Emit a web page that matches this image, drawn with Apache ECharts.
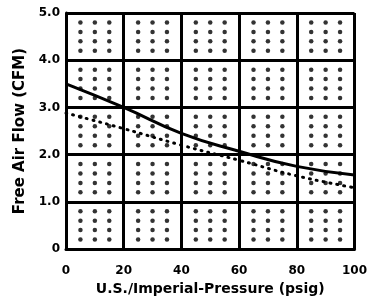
<!DOCTYPE html>
<html>
<head>
<meta charset="utf-8">
<script src="https://cdn.jsdelivr.net/npm/echarts@6/dist/echarts.min.js"></script>
<style>
html,body{margin:0;padding:0;background:#fff;}
#main{width:370px;height:301px;}
</style>
</head>
<body>
<div id="main"></div>
<script>
// 压力 (psig)
var pressure=[0,20,40,60,80,100];
// 实线
var flowSolid=[3.5,3.0,2.45,2.07,1.75,1.57];
// 点线
var flowDotted=[2.88,2.55,2.2,1.88,1.55,1.3];
// 刻度标签
var yLabels={0:'0',1:'1.0',2:'2.0',3:'3.0',4:'4.0',5:'5.0'};
// 格子内的装饰点 (相对于每格的偏移)
var dotOffX=[5,10,15];
var dotOffY=[0.2,0.4,0.6,0.8];

var dots=[];
for(var cx=0;cx<100;cx+=20){
    for(var cy=0;cy<5;cy++){
        dotOffX.forEach(function(dx){
            dotOffY.forEach(function(dy){
                dots.push([cx+dx,cy+dy]);
            });
        });
    }
}

var font='DejaVu Sans';
var myChart=echarts.init(document.getElementById('main'));
var option={
    animation:false,
    grid:{left:66,right:14,top:13,bottom:52},
    xAxis:{
        type:'value',min:0,max:100,interval:20,
        name:'U.S./Imperial-Pressure (psig)',
        nameLocation:'middle',nameGap:32,
        nameTextStyle:{color:'#000',fontFamily:font,fontWeight:'bold',fontSize:14},
        axisLine:{lineStyle:{color:'#000',width:3}},
        axisTick:{show:false},
        axisLabel:{color:'#000',fontFamily:font,fontWeight:'bold',fontSize:12,margin:16},
        splitLine:{lineStyle:{color:'#000',width:3}}
    },
    yAxis:{
        type:'value',min:0,max:5,interval:1,
        name:'Free Air Flow (CFM)',
        nameLocation:'middle',nameGap:33,
        nameTextStyle:{color:'#000',fontFamily:font,fontWeight:'bold',fontSize:15},
        axisLine:{show:true,lineStyle:{color:'#000',width:3}},
        axisTick:{show:false},
        axisLabel:{color:'#000',fontFamily:font,fontWeight:'bold',fontSize:12,margin:6,
            formatter:function(v){return yLabels[v];}},
        splitLine:{lineStyle:{color:'#000',width:3}}
    },
    series:[
        {
            type:'scatter',data:dots,symbolSize:4.5,silent:true,
            itemStyle:{color:'#000'}
        },
        {
            type:'line',smooth:true,symbol:'none',
            data:pressure.map(function(p,i){return [p,flowSolid[i]];}),
            lineStyle:{color:'#000',width:3}
        },
        {
            type:'line',smooth:true,symbol:'none',
            data:pressure.map(function(p,i){return [p,flowDotted[i]];}),
            lineStyle:{color:'#000',width:3,type:[1,6],cap:'round'}
        }
    ]
};
myChart.setOption(option);
</script>
</body>
</html>
